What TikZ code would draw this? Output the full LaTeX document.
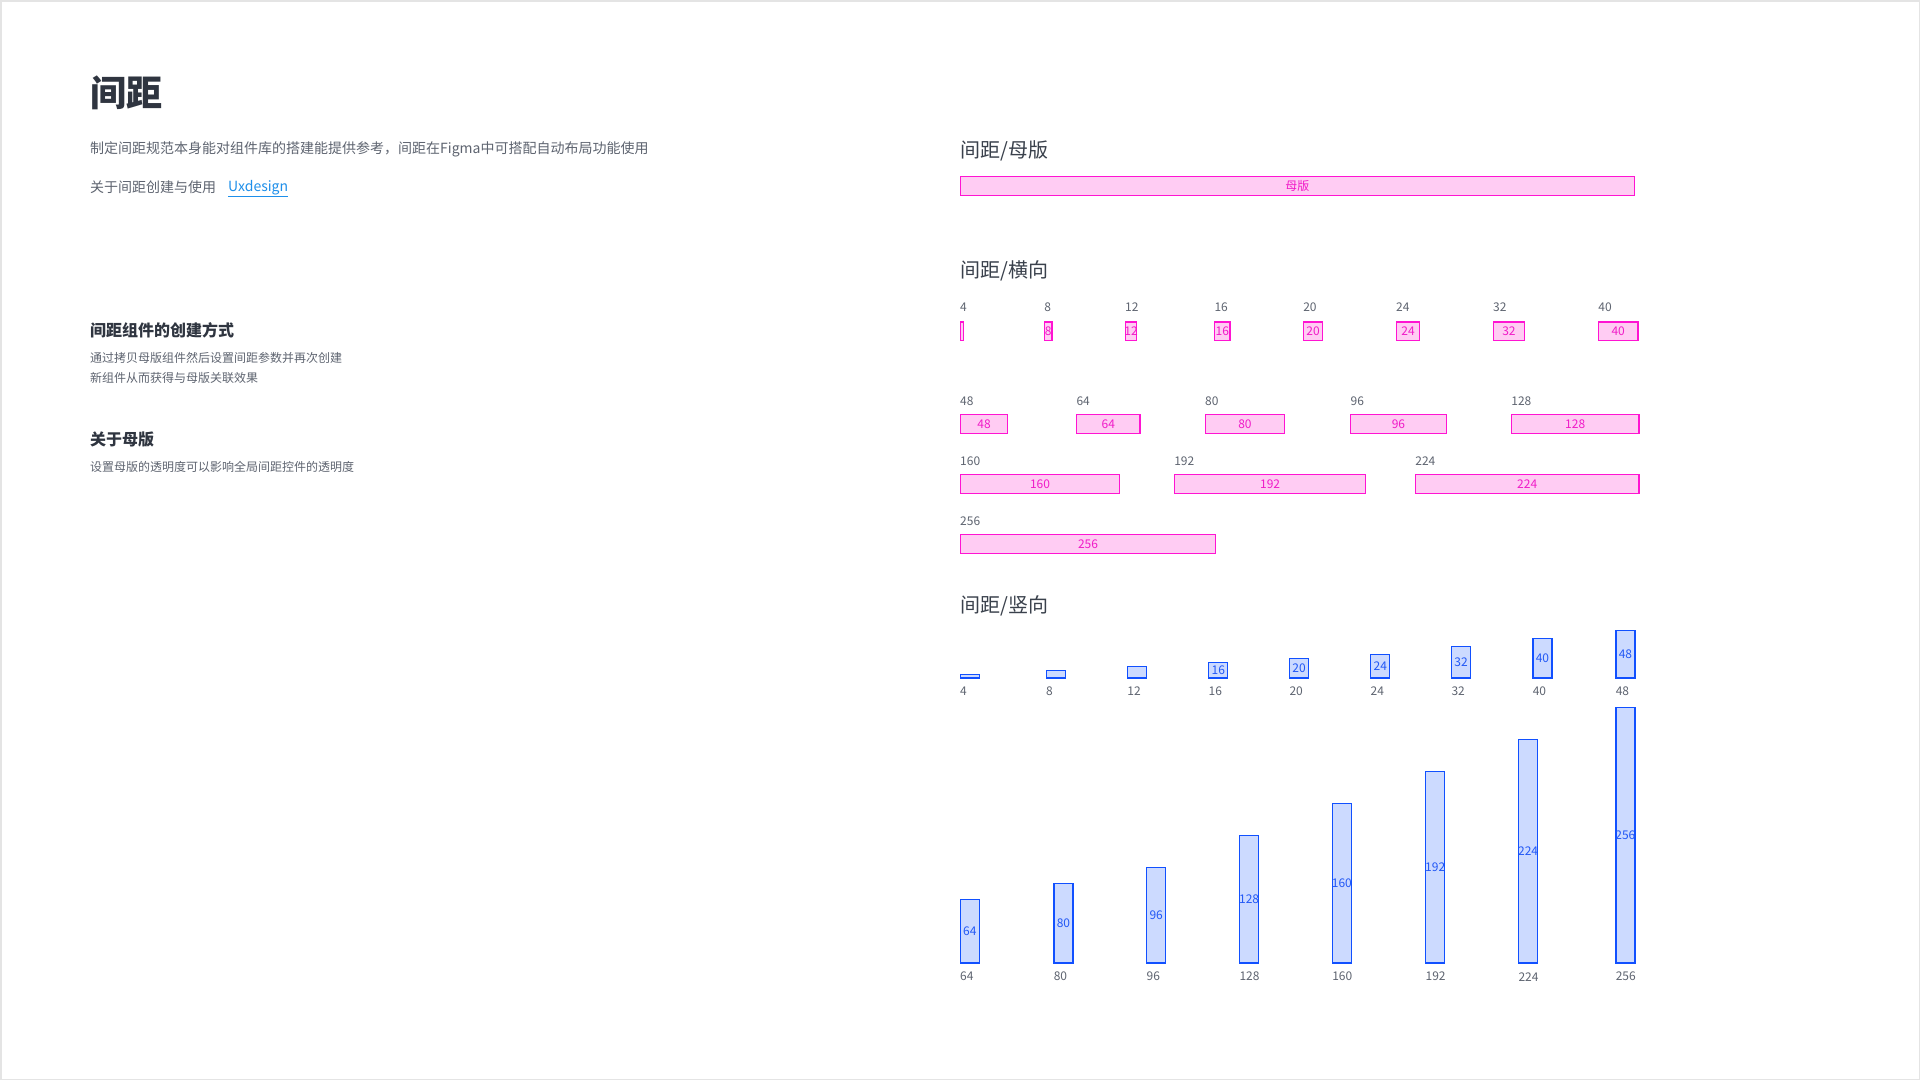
\documentclass[tikz,border=0pt]{standalone}
\usepackage{fontspec}
\setmainfont{Noto Sans CJK SC}
\definecolor{pinkS}{HTML}{FF14D2}
\definecolor{pinkF}{HTML}{FFCCF3}
\definecolor{pinkT}{HTML}{F01CC8}
\definecolor{blueS}{HTML}{1150FF}
\definecolor{blueF}{HTML}{CCDAFF}
\definecolor{blueT}{HTML}{2258F5}
\definecolor{dark}{HTML}{2F3540}
\definecolor{headc}{HTML}{3A414C}
\definecolor{greyt}{HTML}{5E6470}
\definecolor{linkc}{HTML}{1E8FEA}
\definecolor{frame}{HTML}{E4E4E4}
\newcommand{\fsz}[1]{\fontsize{#1}{#1}\selectfont}
\tikzset{
  hbar/.style={draw=pinkS, fill=pinkF, line width=1.2pt, inner sep=0pt, outer sep=0pt, anchor=north west, minimum height=18.5},
  vbar/.style={draw=blueS, fill=blueF, line width=1.2pt, inner sep=0pt, outer sep=0pt, anchor=south west, minimum width=19},
  numlab/.style={text=greyt, inner sep=0pt, anchor=west, font=\fsz{12}},
  plab/.style={text=pinkT, inner sep=0pt, font=\fsz{12}},
  blab/.style={text=blueT, inner sep=0pt, font=\fsz{12}},
  head/.style={text=headc, inner sep=0pt, anchor=west, font=\fsz{20}},
  body/.style={text=greyt, inner sep=0pt, anchor=west},
}
\begin{document}
\begin{tikzpicture}[x=1pt, y=-1pt]
\useasboundingbox (0,0) rectangle (1920,1080);
\fill[white] (0,0) rectangle (1920,1080);
\draw[frame, line width=1.5pt] (0.75,0.75) rectangle (1919.25,1079.25);

% left column
\node[text=dark, inner sep=0pt, anchor=west, font=\fsz{36}\bfseries] (title) at (90,92.5) {间距};
\node[body, font=\fsz{14}] (desc) at (90,149.3) {制定间距规范本身能对组件库的搭建能提供参考，间距在Figma中可搭配自动布局功能使用};
\node[body, font=\fsz{14}] (about) at (90,187.3) {关于间距创建与使用};
\node[inner sep=0pt, anchor=west, text=linkc, font=\fsz{14}] (link) at (228,187.3) {Uxdesign};
\draw[linkc, line width=0.9pt] (link.south west) ++(0,2) coordinate (ul1) (link.south east) ++(0,2) coordinate (ul2);
\draw[linkc, line width=0.9pt] (ul1) -- (ul2);
\node[text=dark, inner sep=0pt, anchor=west, font=\fsz{16}\bfseries] (h1) at (90,330) {间距组件的创建方式};
\node[body, font=\fsz{12}] (t1) at (90,357.7) {通过拷贝母版组件然后设置间距参数并再次创建};
\node[body, font=\fsz{12}] (t2) at (90,377.7) {新组件从而获得与母版关联效果};
\node[text=dark, inner sep=0pt, anchor=west, font=\fsz{16}\bfseries] (h2) at (90,439.3) {关于母版};
\node[body, font=\fsz{12}] (t3) at (90,466.7) {设置母版的透明度可以影响全局间距控件的透明度};

% master
\node[head] (hm) at (960,151) {间距/母版};
\node[hbar, minimum width=674] (master) at (960.3,176.6) {};
\node[plab] (mastert) at (master.center) {母版};

% horizontal
\node[head] (hh) at (960,271) {间距/横向};
\foreach \v/\x in {4/960.3,8/1044.5,12/1125.3,16/1214.6,20/1303.4,24/1396.3,32/1493.2,40/1598.5}{
  \node[hbar, minimum width=\v-0.6] (h\v) at (\x,322) {};
  \node[numlab] (hl\v) at (\x-0.3,307.3) {\v};
}
\foreach \v in {8,12,16,20,24,32,40}{ \node[plab] (ht\v) at (h\v.center) {\v}; }
\foreach \v/\x/\y in {48/960.3/414.6,64/1076.6/414.6,80/1205.2/414.6,96/1350.7/414.6,128/1511.5/414.6,
                      160/960.3/474.6,192/1174.4/474.6,224/1415.5/474.6,256/960.3/534.6}{
  \node[hbar, minimum width=\v-0.6] (h\v) at (\x,\y) {};
  \node[numlab] (hl\v) at (\x-0.3,\y-13.5) {\v};
  \node[plab] (ht\v) at (h\v.center) {\v};
}

% vertical
\node[head] (hv) at (960,606.3) {间距/竖向};
\foreach \v/\x in {4/960.3,8/1046.3,12/1127.5,16/1208.8,20/1289.6,24/1370.8,32/1451.6,40/1532.9,48/1615.9}{
  \node[vbar, minimum height=\v-0.8] (v\v) at (\x,678) {};
  \node[numlab] (vl\v) at (\x-0.3,691) {\v};
}
\foreach \v in {16,20,24,32,40,48}{ \node[blab] (vt\v) at (v\v.center) {\v}; }
\foreach \v/\x in {64/960.3,80/1053.9,96/1146.7,128/1239.6,160/1332.4,192/1425.7,224/1518.6,256/1615.9}{
  \node[vbar, minimum height=\v-0.8] (v\v) at (\x,963) {};
  \node[numlab] (vl\v) at (\x-0.3,976.7) {\v};
  \node[blab] (vt\v) at (v\v.center) {\v};
}
\end{tikzpicture}
\end{document}
